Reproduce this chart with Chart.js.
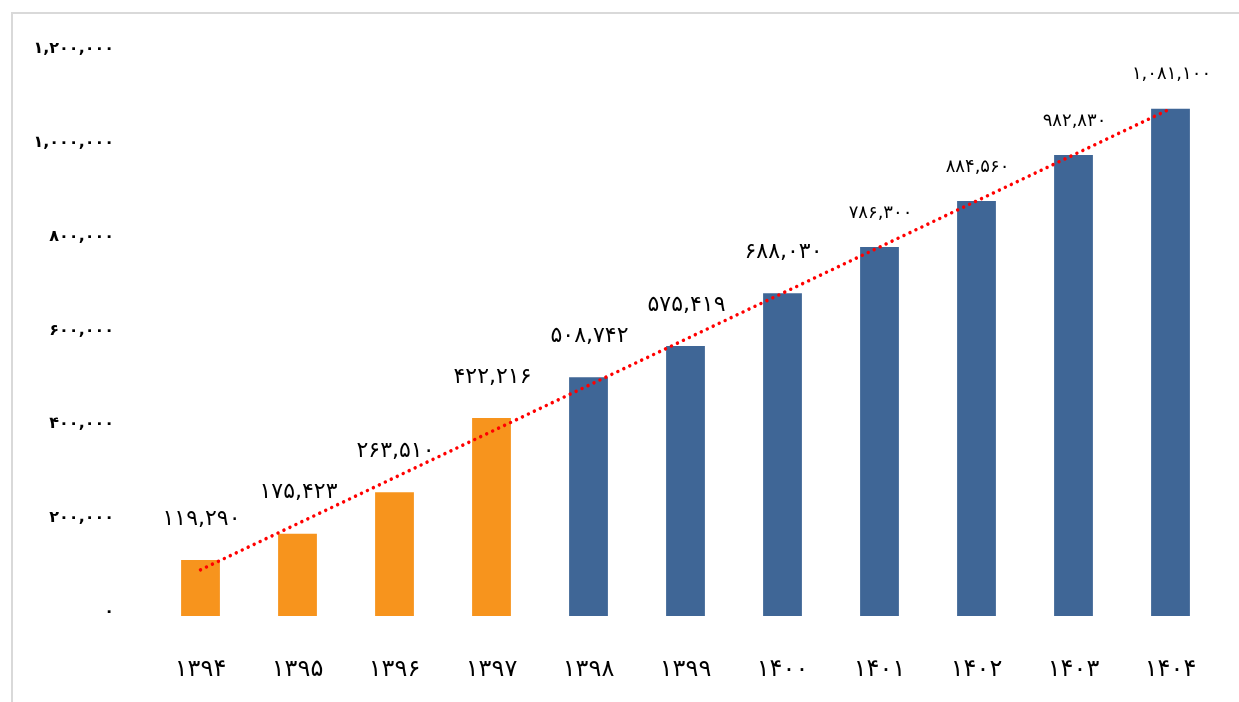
<!DOCTYPE html>
<html>
<head>
<meta charset="utf-8">
<script src="https://cdn.jsdelivr.net/npm/chart.js@4.4.1/dist/chart.umd.min.js"></script>
<style>
  html, body { margin: 0; padding: 0; background: #fff; overflow: hidden; }
  #frame { position: absolute; left: 11px; top: 12px; width: 1300px; height: 800px;
           border-left: 2px solid #d9d9d9; border-top: 2px solid #d9d9d9; }
  #wrap { position: absolute; left: 0; top: 0; width: 1239px; height: 702px; }
</style>
</head>
<body>
<div id="frame"></div>
<div id="wrap"><canvas id="BudgetChart"></canvas></div>
<script>
// years (solar hijri)
var years = [1394, 1395, 1396, 1397, 1398, 1399, 1400, 1401, 1402, 1403, 1404];
var values = [119290, 175423, 263510, 422216, 508742, 575419, 688030, 786300, 884560, 982830, 1081100];
// linear trend line, only the two ends
var trend = [98400, null, null, null, null, null, null, null, null, null, 1081100];
var yTicks = [0, 200000, 400000, 600000, 800000, 1000000, 1200000];

var barColors = years.map(function (y, i) { return i < 4 ? '#F7941D' : '#3F6696'; });

function fa(s) {
    return String(s).replace(/\d/g, function (d) { return '۰۱۲۳۴۵۶۷۸۹'[d]; });
}

var valueLabels = {
    id: 'valueLabels',
    afterDatasetsDraw: function (chart) {
        var ctx = chart.ctx;
        var meta = chart.getDatasetMeta(1);
        ctx.save();
        ctx.fillStyle = '#000';
        ctx.textAlign = 'center';
        ctx.textBaseline = 'middle';
        meta.data.forEach(function (bar, i) {
            var small = i >= 7;
            ctx.font = (small ? '18px' : '22px') + ' "DejaVu Sans"';
            ctx.fillText(fa(values[i].toLocaleString('en-US')), bar.x + 1, bar.y - (small ? 34 : 41));
        });
        ctx.restore();
    }
};

var ctx = document.getElementById('BudgetChart');
var BudgetChart = new Chart(ctx, {
    type: 'bar',
    data: {
        labels: years.map(fa),
        datasets: [{
            type: 'line',
            data: trend,
            borderColor: '#FF0000',
            borderWidth: 3.5,
            borderDash: [0.001, 6.6],
            borderCapStyle: 'round',
            pointRadius: 0,
            spanGaps: true,
            fill: false,
            order: 0
        }, {
            data: values,
            backgroundColor: barColors,
            borderWidth: 0,
            categoryPercentage: 1,
            barPercentage: 0.4,
            order: 1
        }]
    },
    options: {
        responsive: true,
        maintainAspectRatio: false,
        animation: false,
        layout: { padding: { left: 0, right: 20, top: 53, bottom: 0 } },
        plugins: { legend: { display: false }, tooltip: { enabled: false } },
        scales: {
            x: {
                grid: { display: false },
                border: { display: false },
                ticks: { color: '#000', padding: 31, font: { family: 'DejaVu Sans', size: 24 } },
                afterFit: function (s) { s.height = 86; }
            },
            y: {
                min: 0,
                max: 1200000,
                grid: { display: false, drawTicks: false },
                border: { display: false },
                afterBuildTicks: function (s) { s.ticks = yTicks.map(function (v) { return { value: v }; }); },
                ticks: {
                    color: '#000',
                    padding: 38,
                    labelOffset: -4,
                    font: { family: 'DejaVu Sans', size: 16, weight: 'bold' },
                    callback: function (v) { return fa(v.toLocaleString('en-US')); }
                },
                afterFit: function (s) { s.width = 152; }
            }
        }
    },
    plugins: [valueLabels]
});
</script>
</body>
</html>
